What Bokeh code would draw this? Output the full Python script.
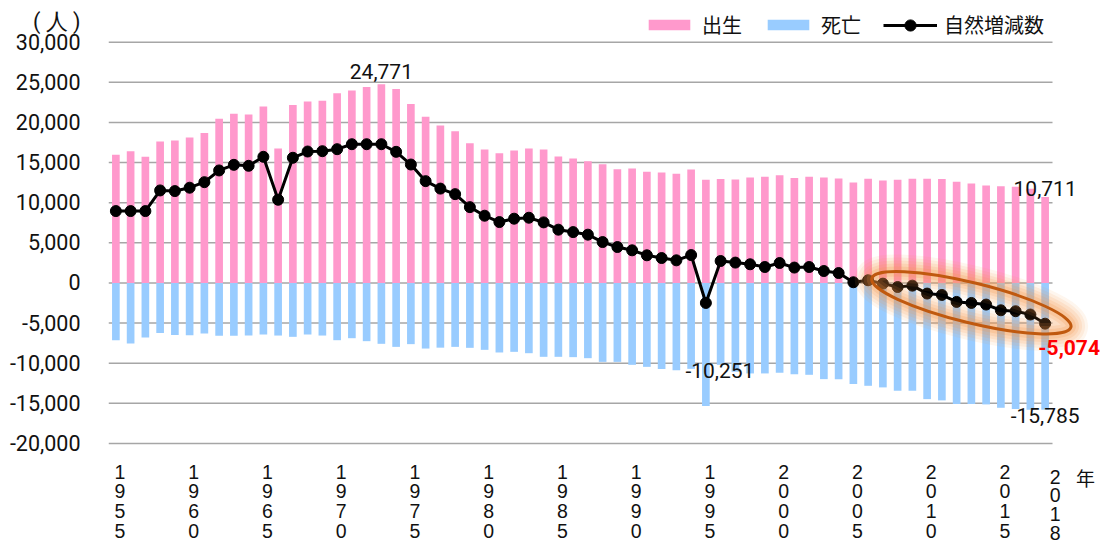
from bokeh.plotting import figure
from bokeh.models import (Range1d, FixedTicker, NumeralTickFormatter, Legend, LegendItem,
                          Label, ColumnDataSource)
from bokeh.core.properties import value
from bokeh.embed import file_html
from bokeh.resources import INLINE

# ---------------- data ----------------
years = list(range(1955, 2019))
births = [15970, 16420, 15720, 17620, 17750, 18120, 18700, 20450, 21100, 20980,
          22000, 16750, 22190, 22600, 22720, 23630, 23970, 24430, 24771, 24180,
          22310, 20700, 19610, 18900, 17410, 16630, 16170, 16500, 16750, 16630,
          15760, 15510, 15180, 14800, 14180, 14270, 13860, 13770, 13600, 14140,
          12860, 12940, 12900, 13150, 13230, 13430, 13070, 13230, 13150, 13020,
          12520, 12980, 12770, 12860, 12980, 12980, 12940, 12610, 12400, 12150,
          12060, 11990, 11750, 10711]
deaths = [7130, 7540, 6800, 6220, 6470, 6500, 6300, 6590, 6590, 6550,
          6420, 6550, 6710, 6420, 6550, 7130, 6880, 7250, 7580, 7960,
          7620, 8170, 8060, 7960, 8080, 8330, 8660, 8580, 8750, 9200,
          9200, 9240, 9370, 9830, 9830, 10200, 10450, 10730, 10860, 10700,
          15330, 10200, 11070, 11270, 11270, 11190, 11360, 11440, 11980, 11980,
          12600, 12810, 13010, 13430, 13430, 14470, 14630, 15090, 15090, 15130,
          15550, 15710, 15780, 15785]
natural = [8960, 8960, 8960, 11530, 11450, 11870, 12560, 14020, 14720, 14600,
           15720, 10370, 15600, 16380, 16420, 16670, 17290, 17290, 17290, 16340,
           14760, 12690, 11760, 11070, 9450, 8380, 7590, 8010, 8130, 7550,
           6640, 6340, 6020, 5100, 4480, 4070, 3450, 3110, 2820, 3480,
           -2490, 2740, 2540, 2330, 1990, 2490, 1920, 1990, 1490, 1240,
           90, 340, -80, -500, -330, -1320, -1490, -2360, -2490, -2690,
           -3400, -3520, -3930, -5074]
tick_years = [1955, 1960, 1965, 1970, 1975, 1980, 1985, 1990, 1995, 2000, 2005, 2010, 2015]
last_year = 2018
y_ticks = [-20000, -15000, -10000, -5000, 0, 5000, 10000, 15000, 20000, 25000, 30000]
highlight_years = list(range(2008, 2019))
peak_year = 1973
quake_year = 1995
quake_value = -10251
series_names = ["出生", "死亡", "自然増減数"]
unit_text = "( 人 )"
year_text = "年"

# ---------------- layout (page pixels) ----------------
W, H = 1100, 545
GRID_LEFT, GRID_RIGHT = 108, 1052
GRID_TOP, GRID_BOTTOM = 41.7, 443
PX_PER_YEAR = (GRID_RIGHT - GRID_LEFT) / len(years)
PX_PER_UNIT = (GRID_BOTTOM - GRID_TOP) / (y_ticks[-1] - y_ticks[0])


def data_x(px):
    return years[0] - 0.5 + (px - GRID_LEFT) / PX_PER_YEAR


def data_y(py):
    return y_ticks[-1] - (py - GRID_TOP) / PX_PER_UNIT


UNIT_TICK = round(data_y(21))

p = figure(width=W, height=H, output_backend="svg", toolbar_location=None,
           x_range=Range1d(data_x(GRID_LEFT), data_x(W)),
           y_range=Range1d(data_y(H), data_y(0)),
           min_border_left=GRID_LEFT, min_border_right=0, min_border_top=0, min_border_bottom=0)
p.outline_line_color = None
p.background_fill_color = "white"
p.border_fill_color = "white"
p.xgrid.visible = False
p.ygrid.visible = False
p.xaxis.visible = False
ya = p.yaxis[0]
ya.ticker = FixedTicker(ticks=y_ticks + [UNIT_TICK])
ya.formatter = NumeralTickFormatter(format="0,0")
ya.major_label_overrides = {UNIT_TICK: unit_text}
ya.axis_line_color = None
ya.major_tick_line_color = None
ya.minor_tick_line_color = None
ya.major_tick_out = 0
ya.major_tick_in = 0
ya.major_label_standoff = 28
ya.major_label_text_font = "Roboto"
ya.major_label_text_font_size = "21.5px"
ya.major_label_text_color = "#111111"

# horizontal gridlines limited to the category span
p.segment(x0=years[0] - 0.5, x1=years[-1] + 0.5, y0=y_ticks, y1=y_ticks,
          line_color="#A6A6A6", line_width=1.5)

src = ColumnDataSource(dict(year=years, births=births,
                            deaths_neg=[-d for d in deaths], natural=natural))
rb = p.vbar(x="year", top="births", bottom=0, width=0.52, source=src,
            fill_color="#FF99CC", line_color=None)
rd = p.vbar(x="year", top=0, bottom="deaths_neg", width=0.52, source=src,
            fill_color="#99CCFF", line_color=None)
rl = p.line(x="year", y="natural", source=src, line_color="black", line_width=3)
rs = p.scatter(x="year", y="natural", source=src, marker="circle", size=11,
               fill_color="black", line_color="black")

# highlight ellipse around recent years
hl_vals = [natural[years.index(y)] for y in highlight_years]
cx = sum(highlight_years) / len(highlight_years)
cy = sum(hl_vals) / len(hl_vals)
for lw, a in [(34, 0.09), (28, 0.11), (22, 0.13), (16, 0.15), (10, 0.2)]:
    p.ellipse(x=[cx], y=[cy], width=205, height=40, angle=-0.24,
              width_units="screen", height_units="screen",
              fill_color=None, line_color="#F79646", line_width=lw, line_alpha=a)
p.ellipse(x=[cx], y=[cy], width=205, height=40, angle=-0.24,
          width_units="screen", height_units="screen",
          fill_color=None, line_color="#C0590F", line_width=3)

# x labels (vertical digits)
xl_font = dict(text_font=value("Liberation Sans"), text_font_size=value("19.5px"),
               text_align="center", text_baseline="middle", text_color="#111111")
lab_x, lab_y, lab_t = [], [], []
for yr in tick_years:
    for i, ch in enumerate(str(yr)):
        lab_x.append(yr)
        lab_y.append(data_y(471 + 19.7 * i))
        lab_t.append(ch)
p.text(x="x", y="y", text="text", x_offset=4,
       source=ColumnDataSource(dict(x=lab_x, y=lab_y, text=lab_t)), **xl_font)
lx, ly, lt = [], [], []
for i, ch in enumerate(str(last_year)):
    lx.append(last_year)
    ly.append(data_y(476 + 18.7 * i))
    lt.append(ch)
p.text(x="x", y="y", text="text", x_offset=10,
       source=ColumnDataSource(dict(x=lx, y=ly, text=lt)), **xl_font)
p.add_layout(Label(x=data_x(1085), y=data_y(477), text=year_text,
                   text_font="Noto Sans CJK JP", text_font_size="19px",
                   text_align="center", text_baseline="middle", text_color="#111111"))

# value annotations
vf = dict(text_font="Roboto", text_font_size="21px", text_align="center",
          text_baseline="alphabetic", text_color="#111111")
pi = years.index(peak_year)
p.add_layout(Label(x=peak_year, y=births[pi], text=f"{births[pi]:,}", y_offset=13, **vf))
p.add_layout(Label(x=years[-1], y=births[-1], text=f"{births[-1]:,}", y_offset=9, **vf))
p.add_layout(Label(x=years[-1], y=-deaths[-1], text=f"{-deaths[-1]:,}", y_offset=-6, **vf))
p.add_layout(Label(x=quake_year, y=quake_value, text=f"{quake_value:,}",
                   x_offset=14, y_offset=-5.5, **vf))
p.add_layout(Label(x=years[-1], y=natural[-1], text=f"{natural[-1]:,}",
                   x_offset=24, y_offset=-24, text_font="Roboto", text_font_size="21px",
                   text_font_style="bold", text_align="center", text_baseline="alphabetic",
                   text_color="#FF0000"))

leg_style = dict(orientation="horizontal", label_standoff=7, spacing=20,
                 padding=0, margin=0, border_line_color=None, background_fill_alpha=0,
                 label_text_font="Noto Sans CJK JP", label_text_font_size="20px",
                 label_text_color="#111111")
legend1 = Legend(items=[LegendItem(label=series_names[0], renderers=[rb]),
                        LegendItem(label=series_names[1], renderers=[rd])],
                 location=(535, 506), glyph_width=52, glyph_height=13, **leg_style)
legend2 = Legend(items=[LegendItem(label=series_names[2], renderers=[rl, rs])],
                 location=(775, 506), glyph_width=54, glyph_height=28, **leg_style)
p.add_layout(legend1)
p.add_layout(legend2)

open("out.html", "w").write(file_html(p, INLINE))
